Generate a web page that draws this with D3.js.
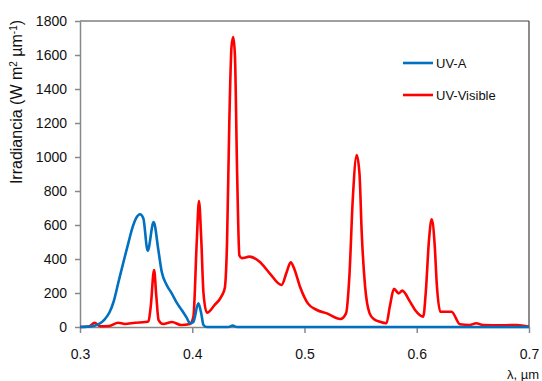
<!DOCTYPE html>
<html><head><meta charset="utf-8">
<script src="https://cdn.jsdelivr.net/npm/d3@7"></script>
<style>body{margin:0;background:#fff;}svg{display:block;}</style>
</head><body>
<script>
const xTicks = [0.3, 0.4, 0.5, 0.6, 0.7];
const yTicks = [0, 200, 400, 600, 800, 1000, 1200, 1400, 1600, 1800];
const seriesNames = ["UV-A", "UV-Visible"];
const seriesColors = ["#0070C0", "#FF0000"];
const uvaLambda = [0.300,0.307,0.313,0.318,0.322,0.3262,0.330,0.334,0.339,0.343,0.347,0.350,0.3535,0.3564,0.3603,0.3656,0.3698,0.3728,0.377,0.3817,0.386,0.3906,0.395,0.398,0.401,0.4054,0.408,0.410,0.413,0.432,0.436,0.440,0.700];
const uvaValue  = [0,2,8,22,45,85,150,257,390,492,590,640,663,640,449,618,453,325,250,198,145,100,55,22,30,139,80,12,0,0,8,0,0];
const visLambda = [0.300,0.308,0.313,0.318,0.326,0.334,0.340,0.349,0.358,0.361,0.363,0.366,0.368,0.370,0.374,0.382,0.390,0.398,0.401,0.404,0.406,0.408,0.410,0.413,0.420,0.426,0.429,0.431,0.433,0.435,0.4365,0.438,0.440,0.442,0.444,0.451,0.460,0.469,0.4796,0.484,0.4877,0.491,0.496,0.503,0.511,0.520,0.532,0.537,0.540,0.543,0.5465,0.549,0.551,0.554,0.558,0.562,0.567,0.573,0.576,0.5797,0.584,0.587,0.594,0.5985,0.6058,0.608,0.611,0.6133,0.616,0.6178,0.621,0.631,0.6385,0.647,0.653,0.659,0.677,0.689,0.700];
const visValue  = [0,3,25,4,6,25,18,25,29,33,120,335,180,41,18,29,12,18,60,500,741,520,200,84,130,180,230,500,1200,1650,1705,1600,900,420,405,414,384,316,247,320,380,340,237,139,100,80,47,80,300,750,1012,900,550,237,80,45,31,22,120,224,198,214,149,100,61,200,520,633,480,257,90,90,16,12,22,12,10,12,2];

const W = 542, H = 381;
const m = {left:80, right:13, top:21, bottom:54};
const svg = d3.select("body").append("svg").attr("width", W).attr("height", H)
  .style("font-family", "'Liberation Sans', Arial, sans-serif");

const x = d3.scaleLinear().domain([0.3, 0.7]).range([m.left, W - m.right]);
const y = d3.scaleLinear().domain([0, 1800]).range([H - m.bottom, m.top]);

// frame top/right
svg.append("line").attr("x1", x(0.3)).attr("x2", x(0.7)).attr("y1", y(1800)).attr("y2", y(1800))
  .attr("stroke", "#404040").attr("stroke-width", 1.2);
svg.append("line").attr("x1", x(0.7)).attr("x2", x(0.7)).attr("y1", y(1800)).attr("y2", y(0))
  .attr("stroke", "#404040").attr("stroke-width", 1.2);

const yAxis = svg.append("g").attr("transform", `translate(${m.left},0)`)
  .call(d3.axisLeft(y).tickValues(yTicks).tickSize(5).tickSizeOuter(0).tickPadding(8).tickFormat(d3.format("d")));
yAxis.selectAll("path,line").attr("stroke", "#888").attr("stroke-width", 1.5);
yAxis.selectAll("text").attr("font-size", 14).attr("fill", "#111").attr("font-family", "'Liberation Sans', Arial, sans-serif");

const xAxis = svg.append("g").attr("transform", `translate(0,${y(0)})`)
  .call(d3.axisBottom(x).tickValues(xTicks).tickSize(6).tickSizeOuter(0).tickPadding(16).tickFormat(d3.format(".1f")));
xAxis.selectAll("path,line").attr("stroke", "#888").attr("stroke-width", 1.5);
xAxis.selectAll("text").attr("font-size", 14).attr("fill", "#111").attr("font-family", "'Liberation Sans', Arial, sans-serif");

const line = d3.line().x(d => x(d[0])).y(d => y(d[1])).curve(d3.curveMonotoneX);
const uva = uvaLambda.map((l, i) => [l, uvaValue[i]]);
const vis = visLambda.map((l, i) => [l, visValue[i]]);
svg.append("path").datum(vis).attr("d", line).attr("fill", "none").attr("stroke", seriesColors[1]).attr("stroke-width", 2.6).attr("stroke-linejoin", "round");
svg.append("path").datum(uva).attr("d", line).attr("fill", "none").attr("stroke", seriesColors[0]).attr("stroke-width", 2.6).attr("stroke-linejoin", "round");

// legend
const leg = svg.append("g");
seriesNames.forEach((n, i) => {
  const ly = 63 + i * 32;
  leg.append("line").attr("x1", 403).attr("x2", 433).attr("y1", ly).attr("y2", ly)
    .attr("stroke", seriesColors[i]).attr("stroke-width", 2.6);
  leg.append("text").attr("x", 436).attr("y", ly).attr("dy", "0.35em").attr("font-size", 13)
    .attr("font-family", "'Liberation Sans Narrow', 'Arial Narrow', sans-serif").attr("fill", "#111").text(n);
});

// axis titles
svg.append("text").attr("x", 507).attr("y", 379).attr("font-size", 13).attr("fill", "#111").text("λ, µm");
const yt = svg.append("text").attr("transform", "translate(22,102) rotate(-90)").attr("text-anchor", "middle")
  .attr("font-size", 16).attr("fill", "#111");
yt.append("tspan").text("Irradiancia  (W m");
yt.append("tspan").attr("baseline-shift", "super").attr("font-size", 10).text("2");
yt.append("tspan").text("\u00A0µm");
yt.append("tspan").attr("baseline-shift", "super").attr("font-size", 10).text("-1");
yt.append("tspan").text(")");
</script>
</body></html>
